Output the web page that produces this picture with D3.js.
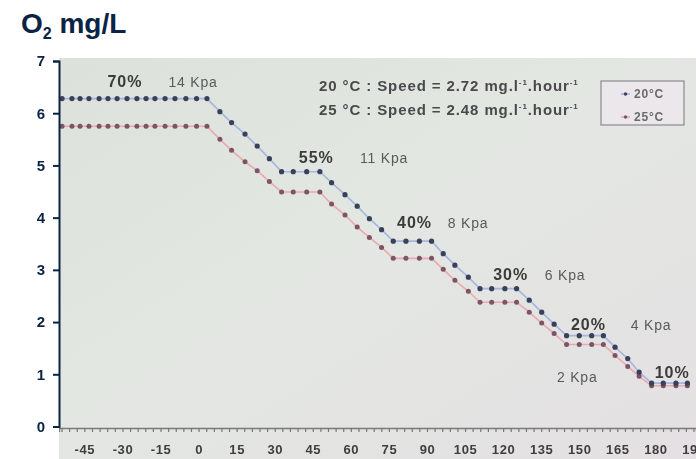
<!DOCTYPE html>
<html>
<head>
<meta charset="utf-8">
<script src="https://cdn.jsdelivr.net/npm/d3@7"></script>
<style>
  html, body { margin: 0; padding: 0; background: #ffffff; }
  svg { display: block; font-family: "Liberation Sans", Arial, sans-serif; }
</style>
</head>
<body>
<svg id="chart" width="696" height="459"></svg>
<script>
// ---- data ----
const minutes = [
  -53.8, -49.9, -46.7, -43.2, -39.2, -35.7, -32.1, -28.2, -24.3, -20.7, -17.2, -13.2, -9.3, -5.0, -0.8, 3.3,
  8.4, 13.0, 18.3, 23.1, 27.9,
  32.7, 37.3, 42.6, 47.8,
  52.4, 57.7, 62.5, 67.3, 72.1,
  76.7, 81.7, 87.0, 91.8,
  96.4, 101.0, 106.3,
  110.9, 115.5, 120.7, 125.3,
  130.3, 135.2, 140.1,
  145.0, 150.0, 154.9, 159.5,
  164.1, 169.1, 173.6,
  178.5, 183.1, 188.1, 192.6
];
const o2_20C = [
  6.28, 6.28, 6.28, 6.28, 6.28, 6.28, 6.28, 6.28, 6.28, 6.28, 6.28, 6.28, 6.28, 6.28, 6.28, 6.28,
  6.03, 5.82, 5.60, 5.37, 5.13,
  4.88, 4.88, 4.88, 4.88,
  4.67, 4.44, 4.22, 3.98, 3.77,
  3.55, 3.55, 3.55, 3.55,
  3.31, 3.09, 2.86,
  2.64, 2.64, 2.64, 2.64,
  2.42, 2.19, 1.96,
  1.74, 1.74, 1.74, 1.74,
  1.52, 1.30, 1.04,
  0.83, 0.83, 0.83, 0.83
];
const o2_25C = [
  5.75, 5.75, 5.75, 5.75, 5.75, 5.75, 5.75, 5.75, 5.75, 5.75, 5.75, 5.75, 5.75, 5.75, 5.75, 5.75,
  5.50, 5.29, 5.07, 4.90, 4.69,
  4.49, 4.49, 4.49, 4.49,
  4.26, 4.05, 3.82, 3.62, 3.43,
  3.22, 3.22, 3.22, 3.22,
  3.01, 2.80, 2.59,
  2.38, 2.38, 2.38, 2.38,
  2.19, 1.98, 1.78,
  1.57, 1.57, 1.57, 1.57,
  1.36, 1.15, 0.96,
  0.78, 0.78, 0.78, 0.78
];
const xTickLabels = [-45, -30, -15, 0, 15, 30, 45, 60, 75, 90, 105, 120, 135, 150, 165, 180, 195];
const yTickLabels = [0, 1, 2, 3, 4, 5, 6, 7];
// annotations: [minute, value, text, bold]
const annotations = [
  [-29, 6.50, "70%", true], [-2.2, 6.50, "14 Kpa", false],
  [46.4, 5.05, "55%", true], [73.1, 5.05, "11 Kpa", false],
  [85.1, 3.80, "40%", true], [106.2, 3.80, "8 Kpa", false],
  [123.0, 2.81, "30%", true], [144.4, 2.81, "6 Kpa", false],
  [153.6, 1.85, "20%", true], [178.3, 1.85, "4 Kpa", false],
  [149.2, 0.85, "2 Kpa", false], [186.6, 0.93, "10%", true]
];
const seriesNames = ["20°C", "25°C"];

// ---- drawing ----
const svg = d3.select("#chart");
const plot = { left: 59, top: 58, right: 696, bottom: 459 };

const x = d3.scaleLinear().domain([-55, 196]).range([59, 696]);
const y = d3.scaleLinear().domain([0, 7]).range([426.5, 61]);

const defs = svg.append("defs");
const grad = defs.append("linearGradient").attr("id", "bg").attr("x1", "0").attr("y1", "0").attr("x2", "1").attr("y2", "1");
grad.append("stop").attr("offset", "0%").attr("stop-color", "#dde1dc");
grad.append("stop").attr("offset", "45%").attr("stop-color", "#e3e7e2");
grad.append("stop").attr("offset", "100%").attr("stop-color", "#e4e0e3");
const blur = defs.append("filter").attr("id", "blur").attr("x", "-5%").attr("y", "-5%").attr("width", "110%").attr("height", "110%");
blur.append("feGaussianBlur").attr("stdDeviation", 0.7);
defs.append("clipPath").attr("id", "clip").append("rect")
  .attr("x", plot.left).attr("y", plot.top).attr("width", plot.right - plot.left).attr("height", plot.bottom - plot.top);

// photo background
svg.append("rect").attr("x", plot.left).attr("y", plot.top)
  .attr("width", plot.right - plot.left).attr("height", plot.bottom - plot.top)
  .attr("fill", "url(#bg)");

const photo = svg.append("g").attr("clip-path", "url(#clip)").append("g").attr("filter", "url(#blur)");

// photographed x axis
const axisY = 428;
const minorAxis = d3.axisBottom(x).tickValues(d3.range(-54, 197, 3)).tickSize(4).tickFormat("");
const gMinor = photo.append("g").attr("transform", `translate(0,${axisY})`).call(minorAxis);
gMinor.select(".domain").attr("stroke", "#7a7a7a").attr("stroke-width", 1.3);
gMinor.selectAll(".tick line").attr("stroke", "#777").attr("stroke-width", 1.2);

const labelAxis = d3.axisBottom(x).tickValues(xTickLabels).tickSize(0).tickPadding(17)
  .tickFormat(d => String(d));
const gLab = photo.append("g").attr("transform", `translate(0,${axisY})`).call(labelAxis);
gLab.select(".domain").remove();
gLab.selectAll(".tick text").attr("font-size", 13).attr("font-weight", "bold")
  .attr("letter-spacing", 0.6)
  .attr("fill", "#3e3e40").attr("font-family", "Liberation Sans, Arial, sans-serif");

// series
const pts20 = minutes.map((m, i) => [m, o2_20C[i]]);
const pts25 = minutes.map((m, i) => [m, o2_25C[i]]);
const line = d3.line().x(d => x(d[0])).y(d => y(d[1]));

photo.append("path").datum(pts25).attr("d", line).attr("fill", "none")
  .attr("stroke", "#eba2aa").attr("stroke-width", 1.6).attr("opacity", 0.9);
photo.append("path").datum(pts20).attr("d", line).attr("fill", "none")
  .attr("stroke", "#9fb1de").attr("stroke-width", 1.6).attr("opacity", 0.9);

photo.append("g").selectAll("circle").data(pts25).join("circle")
  .attr("cx", d => x(d[0])).attr("cy", d => y(d[1])).attr("r", 2.5).attr("fill", "#7d5266");
photo.append("g").selectAll("circle").data(pts20).join("circle")
  .attr("cx", d => x(d[0])).attr("cy", d => y(d[1])).attr("r", 2.6).attr("fill", "#383f5a");

// annotations
photo.append("g").selectAll("text").data(annotations).join("text")
  .attr("x", d => x(d[0])).attr("y", d => y(d[1]))
  .attr("text-anchor", "middle")
  .attr("font-size", d => d[3] ? 16 : 14)
  .attr("letter-spacing", d => d[3] ? 1 : 0.8)
  .attr("font-weight", d => d[3] ? "bold" : "normal")
  .attr("fill", d => d[3] ? "#3a3a3a" : "#5a5a5c")
  .text(d => d[2]);

// speed text
const speed = photo.append("g").attr("font-size", 15).attr("font-weight", "bold")
  .attr("letter-spacing", 0.9).attr("fill", "#4a4a4c");
function speedLine(yy, label) {
  const t = speed.append("text").attr("x", 319).attr("y", yy);
  t.append("tspan").text(label + " mg.l");
  t.append("tspan").attr("font-size", 8).attr("dy", -6).text("-1");
  t.append("tspan").attr("dy", 6).text(".hour");
  t.append("tspan").attr("font-size", 8).attr("dy", -6).text("-1");
}
speedLine(91, "20 °C : Speed = 2.72");
speedLine(115, "25 °C : Speed = 2.48");

// legend box
const lg = photo.append("g");
lg.append("rect").attr("x", 601).attr("y", 81).attr("width", 83).attr("height", 44)
  .attr("fill", "#ebe7ea").attr("stroke", "#8a8a8c").attr("stroke-width", 1.2);
const legColors = [["#9fb1de", "#383f5a"], ["#eba2aa", "#7d5266"]];
seriesNames.forEach((name, i) => {
  const yy = 94 + i * 23;
  lg.append("line").attr("x1", 621).attr("x2", 630).attr("y1", yy).attr("y2", yy)
    .attr("stroke", legColors[i][0]).attr("stroke-width", 1.5);
  lg.append("circle").attr("cx", 625.5).attr("cy", yy).attr("r", 1.7).attr("fill", legColors[i][1]);
  lg.append("text").attr("x", 634).attr("y", yy + 4).attr("font-size", 12).attr("font-weight", "bold")
    .attr("letter-spacing", 0.8).attr("fill", "#6a6a6c").text(name);
});

// real y axis
const yAxis = d3.axisLeft(y).tickValues(yTickLabels).tickSize(6).tickPadding(8).tickFormat(d3.format("d"));
const gy = svg.append("g").attr("transform", `translate(${plot.left},0)`).call(yAxis);
gy.select(".domain").attr("stroke", "#0b2345").attr("stroke-width", 2);
gy.selectAll(".tick line").attr("stroke", "#0b2345").attr("stroke-width", 2);
gy.selectAll(".tick text").attr("font-size", 15).attr("font-weight", "bold").attr("fill", "#0b2345")
  .attr("font-family", "Liberation Sans, Arial, sans-serif");

// title
const title = svg.append("text").attr("x", 21).attr("y", 33).attr("fill", "#0b2345")
  .attr("font-weight", "bold").attr("font-size", 28);
title.append("tspan").text("O");
title.append("tspan").attr("font-size", 16).attr("dy", 6).text("2");
title.append("tspan").attr("dy", -6).text(" mg/L");
</script>
</body>
</html>
